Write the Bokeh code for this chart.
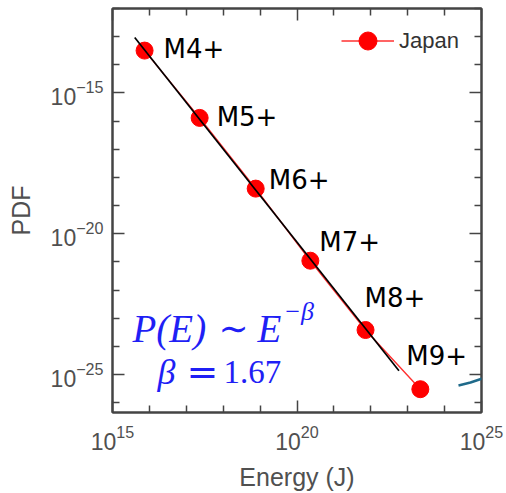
from bokeh.plotting import figure
from bokeh.models import (FixedTicker, LogAxis, Label, PolyAnnotation, ColumnDataSource,
                          Legend, LegendItem)
from bokeh.core.properties import value
from bokeh.embed import file_html
from bokeh.resources import INLINE

# ---- data ----
magnitudes = ["M4+", "M5+", "M6+", "M7+", "M8+", "M9+"]
energy = [7.4e15, 2.3e17, 7.6e18, 2.3e20, 7.2e21, 2.2e23]
pdf = [3.2e-14, 1.3e-16, 4.0e-19, 1.1e-21, 3.8e-24, 3.0e-26]
fit_energy = [4.0e15, 5.8e22]
fit_pdf = [9.3e-14, 1.35e-25]
beta = 1.67
x_major = [1e15, 1e20, 1e25]
x_minor = [1e16, 1e17, 1e18, 1e19, 1e21, 1e22, 1e23, 1e24]
y_major = [1e-25, 1e-20, 1e-15]
y_minor = [1e-26, 1e-24, 1e-23, 1e-22, 1e-21, 1e-19, 1e-18, 1e-17, 1e-16, 1e-14, 1e-13, 1e-12]
x_labels = ["10¹⁵", "10²⁰", "10²⁵"]
y_labels = ["10⁻²⁵", "10⁻²⁰", "10⁻¹⁵"]

# label offsets (pixels) – style only
lab_dx = [19, 17, 13, 9, -1, -14]
lab_dy = [-2, -1, -9, -19, -32, -33]

AX = "#444444"
TXT = "#505050"
SANS = "Liberation Sans"

p = figure(width=506, height=493, x_axis_type="log", y_axis_type="log",
           x_range=(1e15, 1e25), y_range=(10 ** -26.35, 1e-12),
           output_backend="svg", toolbar_location=None,
           min_border_left=112, min_border_right=25, min_border_top=8, min_border_bottom=81)
p.grid.visible = False
p.background_fill_color = "white"
p.border_fill_color = "white"
p.outline_line_color = AX
p.outline_line_width = 2

xt = FixedTicker(ticks=x_major, minor_ticks=x_minor)
yt = FixedTicker(ticks=y_major, minor_ticks=y_minor)

def style_axis(ax, ticker, show):
    ax.ticker = ticker
    ax.axis_line_color = AX
    ax.axis_line_width = 2
    ax.major_tick_line_color = AX
    ax.minor_tick_line_color = AX
    ax.major_tick_line_width = 1.5
    ax.minor_tick_line_width = 1.5
    ax.major_tick_in = 12
    ax.major_tick_out = 0
    ax.minor_tick_in = 7
    ax.minor_tick_out = 0
    if not show:
        ax.major_label_text_font_size = "1px"
        ax.major_label_text_alpha = 0
        ax.major_label_standoff = 0

xa = p.xaxis[0]
ya = p.yaxis[0]
style_axis(xa, xt, True)
style_axis(ya, yt, True)
xa.major_label_overrides = {str(v): s for v, s in zip(x_major, x_labels)}
ya.major_label_overrides = {str(v): s for v, s in zip(y_major, y_labels)}
for ax in (xa, ya):
    ax.major_label_text_font = SANS
    ax.major_label_text_font_size = "23px"
    ax.major_label_text_color = TXT
    ax.axis_label_text_font = SANS
    ax.axis_label_text_font_size = "25px"
    ax.axis_label_text_font_style = "normal"
    ax.axis_label_text_color = TXT
xa.axis_label = "Energy (J)"
ya.axis_label = "PDF"
xa.major_label_standoff = 12
xa.axis_label_standoff = 10
ya.major_label_standoff = 9
ya.axis_label_standoff = 13

top = LogAxis()
right = LogAxis()
style_axis(top, xt, False)
style_axis(right, yt, False)
p.add_layout(top, "above")
p.add_layout(right, "right")

src = ColumnDataSource(dict(x=energy, y=pdf, t=magnitudes, dx=lab_dx, dy=lab_dy))
ln = p.line("x", "y", source=src, line_color="#ff3030", line_width=1.4)
sc = p.scatter("x", "y", source=src, size=17, fill_color="#ff0000", line_color="#ff0000")
p.line(fit_energy, fit_pdf, line_color="black", line_width=1.7)
p.text("x", "y", text="t", source=src, x_offset="dx", y_offset="dy",
       text_font=value("DejaVu Sans"), text_font_size="26px", text_color="black",
       text_baseline="alphabetic", text_align="left")

leg = Legend(items=[LegendItem(label="Japan", renderers=[ln, sc])],
             location=(229, 349), glyph_width=53, glyph_height=45, label_height=45,
             label_standoff=5, padding=0, spacing=0, margin=0,
             border_line_alpha=0, background_fill_alpha=0,
             label_text_font=SANS, label_text_font_size="22px", label_text_color="#333333")
p.add_layout(leg)

BLUE = "#1f1ff5"
SERIF = "Liberation Serif"
def lab(txt, x, y, size, style="italic", font=SERIF):
    p.add_layout(Label(x=x, y=y, x_units="screen", y_units="screen", text=txt,
                       text_font=font, text_font_size=size, text_font_style=style,
                       text_color=BLUE, text_baseline="alphabetic", text_align="left"))

lab("P(E)", 20, 84, "39px")
lab("∼", 106, 84, "36px", "normal", "DejaVu Serif")
lab("E", 145, 84, "39px")
lab("−β", 171, 101, "26px")
lab("β", 45, 41, "36px")
lab("=", 74, 41, "38px", "normal", "DejaVu Serif")
lab("%.2f" % beta, 111, 41, "33px", "normal")

# decorative arc at the right edge (belongs to neighbouring figure)
arc_x = [346, 358, 370, 382, 394]
arc_y = [27, 30, 34, 39, 45]
p.add_layout(PolyAnnotation(xs=arc_x + arc_x[::-1], ys=arc_y + arc_y[::-1],
                            xs_units="screen", ys_units="screen",
                            line_color="#1f6a8a", line_alpha=1.0, line_width=2.5,
                            fill_alpha=0))

open("out.html", "w").write(file_html(p, INLINE))
